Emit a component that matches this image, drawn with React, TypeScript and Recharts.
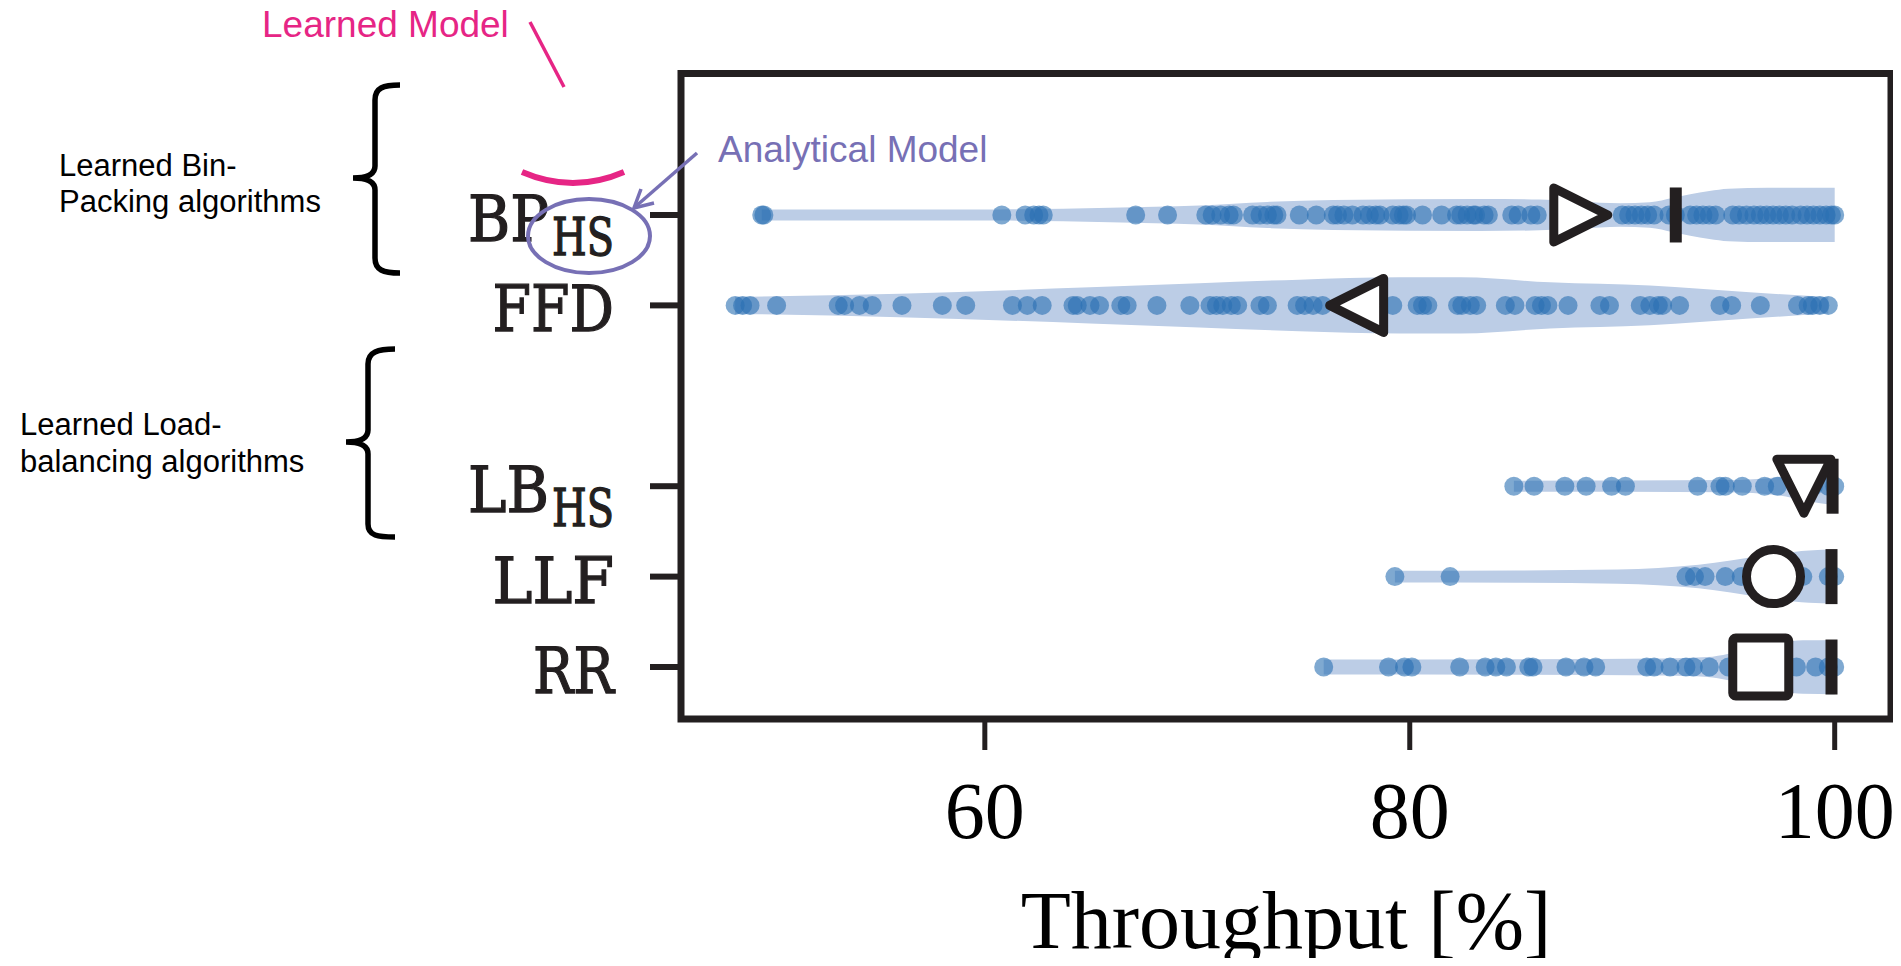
import React from 'react';
import { ComposedChart, Area, Scatter, XAxis, YAxis, ReferenceArea } from 'recharts';

// ---------- data ----------
const CATEGORY_MAIN = ['BP', 'FFD', '', 'LB', 'LLF', 'RR'];
const CATEGORY_SUB = ['HS', '', '', 'HS', '', ''];
const X_TICKS = [60, 80, 100];
const X_DOMAIN: [number, number] = [45.7, 102.65];
const Y_DOMAIN: [number, number] = [-1.565, 5.575];

const BP_POINTS = [49.5, 49.6, 60.8, 61.9, 62.3, 62.55, 62.75, 67.1, 68.6, 70.4, 70.7, 71.1, 71.5, 71.7, 72.6, 72.95, 73.3, 73.6, 73.75, 74.8, 75.6, 76.4, 76.6, 76.9, 77.3, 77.8, 78.1, 78.4, 78.6, 79.2, 79.5, 79.7, 79.85, 80.6, 81.5, 82.2, 82.4, 82.7, 83.0, 83.1, 83.5, 83.7, 84.8, 85.1, 85.7, 86.0, 90.0, 90.3, 90.6, 90.9, 91.2, 91.5, 92.2, 92.5, 93.2, 93.5, 93.8, 94.1, 94.4, 95.2, 95.5, 95.85, 96.2, 96.5, 96.8, 97.1, 97.4, 97.7, 98.0, 98.4, 98.7, 99.0, 99.3, 99.6, 99.85, 100];
const FFD_POINTS = [48.25, 48.6, 48.95, 50.2, 53.1, 53.4, 54.1, 54.7, 56.1, 58.0, 59.1, 61.3, 62.0, 62.7, 64.15, 64.35, 64.95, 65.4, 66.4, 66.7, 68.1, 69.65, 70.6, 70.9, 71.2, 71.6, 71.9, 72.95, 73.3, 74.7, 75.05, 75.45, 75.9, 79.2, 80.35, 80.6, 80.85, 82.25, 82.45, 82.85, 83.15, 84.5, 84.95, 85.9, 86.2, 86.5, 87.45, 88.95, 89.4, 90.85, 91.3, 91.7, 91.9, 92.7, 94.6, 95.15, 96.5, 98.25, 98.75, 98.95, 99.3, 99.7];
const LB_POINTS = [84.9, 85.85, 87.3, 88.3, 89.5, 90.15, 93.55, 94.6, 94.85, 95.65, 96.7, 97.3, 98.2, 99.0, 99.7, 100];
const LLF_POINTS = [79.3, 81.9, 93.0, 93.4, 93.9, 94.85, 95.6, 98.5, 99.7, 100];
const RR_POINTS = [75.95, 79.0, 79.75, 80.1, 82.35, 83.55, 84.05, 84.55, 85.6, 85.8, 87.35, 88.2, 88.75, 91.15, 91.5, 92.25, 93.0, 93.35, 94.1, 95.0, 96.0, 98.2, 99.1, 99.7, 100];

// violin profiles: [throughput, half-width in category units]
const BP_VIOLIN = [[49.5, 0.06], [60.7, 0.062], [65.9, 0.08], [70.1, 0.105], [73.3, 0.145], [76.4, 0.165], [83.3, 0.177], [86.1, 0.17], [88.0, 0.15], [89.9, 0.13], [91.3, 0.14], [92.4, 0.19], [93.2, 0.23], [94.1, 0.265], [95.0, 0.29], [96.85, 0.3], [100, 0.3]];
const FFD_VIOLIN = [[48.25, 0.094], [56.0, 0.13], [64.95, 0.2], [70.1, 0.245], [74.8, 0.285], [79.5, 0.31], [82.4, 0.31], [86.6, 0.255], [91.3, 0.22], [96.0, 0.145], [99.7, 0.09]];
const LB_VIOLIN = [[84.9, 0.06], [90.0, 0.062], [95.0, 0.068], [97.3, 0.1], [98.8, 0.17], [100, 0.21]];
const LLF_VIOLIN = [[79.3, 0.065], [85.0, 0.068], [89.8, 0.078], [93.6, 0.13], [96.6, 0.23], [98.8, 0.29], [100, 0.3]];
const RR_VIOLIN = [[75.95, 0.083], [85.0, 0.085], [92.0, 0.095], [94.0, 0.11], [96.0, 0.2], [97.5, 0.27], [98.5, 0.295], [100, 0.3]];

const MEAN_VALUES = [88.05, 77.5, 98.55, 97.12, 96.52];
const MEAN_ROWS = [0, 1, 3, 4, 5];
const MEAN_SHAPES = ['right', 'left', 'down', 'circle', 'square'];
const MEDIAN_VALUES = [92.52, 99.9, 99.85, 99.85];
const MEDIAN_ROWS = [0, 3, 4, 5];

// ---------- styling ----------
const INK = '#231f20';
const VIOLIN_FILL = '#bccde6';
const DOT_FILL = '#2a70b3';
const CHART_W = 1893;
const CHART_H = 958;
const MARGIN = { top: 65.5, right: 10, bottom: 87, left: 0 };
const YAXIS_W = 673;
const XAXIS_H = 160;
const PLOT_BOTTOM = CHART_H - MARGIN.bottom - XAXIS_H;
const PLOT_LEFT = MARGIN.left + YAXIS_W;
const PLOT_RIGHT = CHART_W - MARGIN.right;

const VIOLINS = [
  { key: 'v0', row: 0, profile: BP_VIOLIN },
  { key: 'v1', row: 1, profile: FFD_VIOLIN },
  { key: 'v3', row: 3, profile: LB_VIOLIN },
  { key: 'v4', row: 4, profile: LLF_VIOLIN },
  { key: 'v5', row: 5, profile: RR_VIOLIN },
];
const POINT_SETS = [
  { row: 0, values: BP_POINTS },
  { row: 1, values: FFD_POINTS },
  { row: 3, values: LB_POINTS },
  { row: 4, values: LLF_POINTS },
  { row: 5, values: RR_POINTS },
];

const allX = Array.from(new Set(VIOLINS.flatMap((v) => v.profile.map((p) => p[0])))).sort((a, b) => a - b);
const VIOLIN_TABLE = allX.map((x) => {
  const r: any = { x };
  VIOLINS.forEach((v) => {
    const p = v.profile.find((q) => q[0] === x);
    if (p) r[v.key] = [v.row - p[1], v.row + p[1]];
  });
  return r;
});
const MEAN_DATA = MEAN_VALUES.map((x, i) => ({ x, y: MEAN_ROWS[i], shape: MEAN_SHAPES[i] }));
const MEDIAN_DATA = MEDIAN_VALUES.map((x, i) => ({ x, y: MEDIAN_ROWS[i] }));
const Y_TICK_POS = CATEGORY_MAIN.map((c, i) => (c ? i : -1)).filter((i) => i >= 0);

const DotShape = (p: any) => <circle cx={p.cx} cy={p.cy} r={9.5} fill={DOT_FILL} fillOpacity={0.6} />;

const MeanShape = (p: any) => {
  const { cx, cy, payload } = p;
  const c = { fill: '#ffffff', stroke: INK, strokeWidth: 9, strokeLinejoin: 'round' as const };
  const s = 27;
  switch (payload.shape) {
    case 'right':
      return <polygon points={`${cx - s},${cy - s} ${cx + s},${cy} ${cx - s},${cy + s}`} {...c} />;
    case 'left':
      return <polygon points={`${cx + s},${cy - s} ${cx - s},${cy} ${cx + s},${cy + s}`} {...c} />;
    case 'down':
      return <polygon points={`${cx - s},${cy - s} ${cx + s},${cy - s} ${cx},${cy + s}`} {...c} />;
    case 'circle':
      return <circle cx={cx} cy={cy} r={27} {...c} />;
    default:
      return <rect x={cx - 28} y={cy - 29} width={56} height={58} rx={3} {...c} />;
  }
};

const MedianShape = (p: any) => <rect x={p.cx - 6} y={p.cy - 27.5} width={12} height={55} fill={INK} />;

const YTick = (p: any) => {
  const { x, y, payload } = p;
  const main = CATEGORY_MAIN[payload.value];
  const sub = CATEGORY_SUB[payload.value];
  const subLen = sub ? 62 : 0;
  const mainEnd = sub ? x - subLen - 3 : x;
  const mainLen = main.length * 40.5;
  return (
    <text x={mainEnd - mainLen} y={y + 26} fontFamily="'DejaVu Serif', serif" fontSize={63} fill={INK}
      stroke={INK} strokeWidth={1.3}>
      <tspan textLength={mainLen} lengthAdjust="spacingAndGlyphs">{main}</tspan>
      {sub ? (
        <tspan x={x - subLen} y={y + 40} fontSize={52} textLength={subLen} lengthAdjust="spacingAndGlyphs">{sub}</tspan>
      ) : null}
    </text>
  );
};

const XTick = (p: any) => (
  <text x={p.x} y={PLOT_BOTTOM + 119} textAnchor="middle" fontFamily="'Liberation Serif', serif" fontSize={80} fill="#000">
    {p.payload.value}
  </text>
);

export default function App() {
  return (
    <div style={{ position: 'relative', width: CHART_W, height: 950 }}>
      <ComposedChart width={CHART_W} height={CHART_H} data={VIOLIN_TABLE} margin={MARGIN}>
        <XAxis type="number" dataKey="x" domain={X_DOMAIN} ticks={X_TICKS} allowDataOverflow interval={0}
          axisLine={false} tickLine={{ stroke: INK, strokeWidth: 5 }} tickSize={31} height={XAXIS_H}
          tick={(p: any) => <XTick {...p} />} />
        <YAxis type="number" dataKey="y" domain={Y_DOMAIN} reversed ticks={Y_TICK_POS} allowDataOverflow interval={0}
          axisLine={false} tickLine={{ stroke: INK, strokeWidth: 6 }} tickSize={31} tickMargin={36} width={YAXIS_W}
          tick={(p: any) => <YTick {...p} />} />
        {VIOLINS.map((v) => (
          <Area key={v.key} dataKey={v.key} type="monotone" connectNulls stroke="none" fill={VIOLIN_FILL}
            fillOpacity={1} dot={false} activeDot={false} isAnimationActive={false} />
        ))}
        {POINT_SETS.map((s) => (
          <Scatter key={'p' + s.row} data={s.values.map((x) => ({ x, y: s.row }))} shape={DotShape} isAnimationActive={false} />
        ))}
        <Scatter data={MEDIAN_DATA} shape={MedianShape} isAnimationActive={false} />
        <Scatter data={MEAN_DATA} shape={MeanShape} isAnimationActive={false} />
        <ReferenceArea x1={X_DOMAIN[0]} x2={X_DOMAIN[1]} y1={Y_DOMAIN[0]} y2={Y_DOMAIN[1]} ifOverflow="visible"
          fill="none" fillOpacity={0} stroke={INK} strokeWidth={7} />
      </ComposedChart>
      <svg width={CHART_W} height={950} style={{ position: 'absolute', left: 0, top: 0, overflow: 'visible', pointerEvents: 'none' }}>
        <g fontFamily="'Liberation Sans', Arial, sans-serif">
          <text x={254} y={29} fontSize={37} fill="#e62585">Learned Model</text>
          <line x1={522} y1={14} x2={556} y2={79} stroke="#e62585" strokeWidth={3.5} />
          <path d="M 514 164 Q 565 186 616 164" fill="none" stroke="#e62585" strokeWidth={6} />
          <text x={710} y={154} fontSize={37} fill="#7770b5">Analytical Model</text>
          <line x1={689} y1={145} x2={627} y2={199} stroke="#7770b5" strokeWidth={3.5} />
          <path d="M 633 181 L 626 200 L 646 195" fill="none" stroke="#7770b5" strokeWidth={3.5} />
          <ellipse cx={581} cy={228} rx={61} ry={37} fill="none" stroke="#7770b5" strokeWidth={4} />
          <path d="M 392 77 C 375 77, 367 80, 367 92 L 367 158 C 367 166, 360 170, 345 170 C 360 170, 367 174, 367 182 L 367 250 C 367 262, 375 265, 392 265"
            fill="none" stroke="#000" strokeWidth={5.5} />
          <path d="M 387 341 C 370 341, 360 344, 360 356 L 360 422 C 360 430, 353 434, 338 434 C 353 434, 360 438, 360 446 L 360 516 C 360 528, 370 529, 387 529"
            fill="none" stroke="#000" strokeWidth={5.5} />
          <text x={51} y={168} fontSize={31} fill="#000">Learned Bin-</text>
          <text x={51} y={204} fontSize={31} fill="#000">Packing algorithms</text>
          <text x={12} y={427} fontSize={31} fill="#000">Learned Load-</text>
          <text x={12} y={464} fontSize={31} fill="#000">balancing algorithms</text>
        </g>
        <text x={(PLOT_LEFT + PLOT_RIGHT) / 2} y={940} textAnchor="middle" fontFamily="'Liberation Serif', serif" fontSize={82} fill="#000">
          Throughput [%]
        </text>
      </svg>
    </div>
  );
}
